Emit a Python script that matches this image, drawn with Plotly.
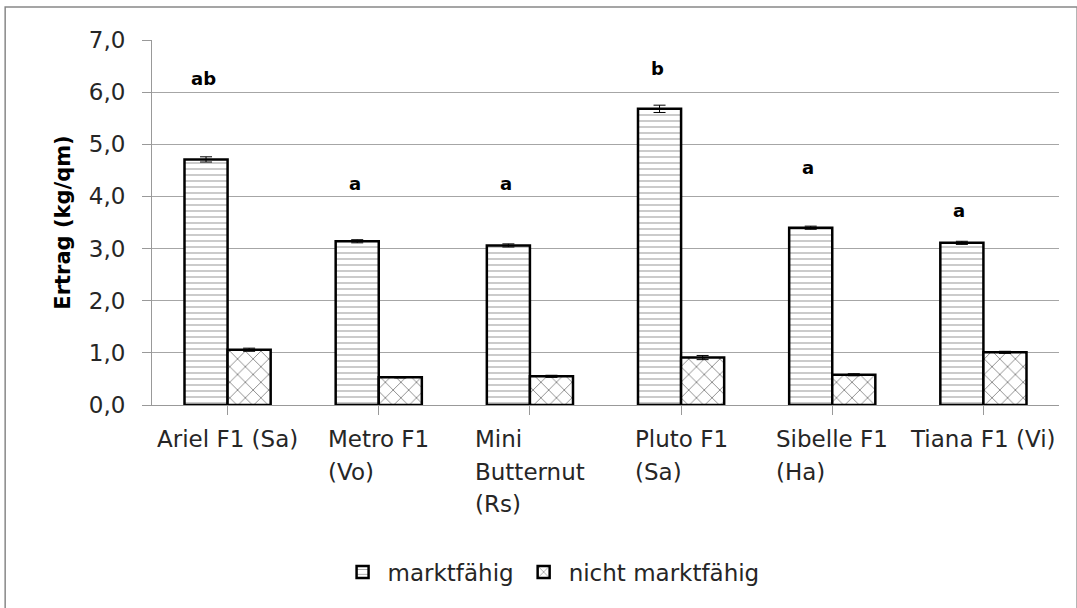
import plotly.graph_objects as go

categories = ["Ariel F1 (Sa)", "Metro F1\n(Vo)", "Mini\nButternut\n(Rs)", "Pluto F1\n(Sa)", "Sibelle F1\n(Ha)", "Tiana F1 (Vi)"]
marktfaehig = [4.71, 3.14, 3.06, 5.68, 3.40, 3.11]
marktfaehig_err = [0.05, 0.03, 0.03, 0.07, 0.03, 0.03]
nicht_marktfaehig = [1.06, 0.53, 0.55, 0.91, 0.58, 1.01]
nicht_err = [0.03, 0.01, 0.02, 0.04, 0.02, 0.02]
letters = ["ab", "a", "a", "b", "a", "a"]
letter_y = [6.27, 4.24, 4.24, 6.46, 4.55, 3.73]
yticks = [0, 1, 2, 3, 4, 5, 6, 7]
ytick_labels = ["0,0", "1,0", "2,0", "3,0", "4,0", "5,0", "6,0", "7,0"]

FONT = "DejaVu Sans"
TXT = "#262626"
xkeys = list(range(len(categories)))

fig = go.Figure()
fig.add_trace(go.Bar(
    x=xkeys, y=marktfaehig, name="marktfähig",
    marker=dict(color="white", line=dict(color="black", width=2.5),
                pattern=dict(shape="-", size=6, solidity=0.17, fgcolor="#333", bgcolor="white")),
    error_y=dict(type="data", array=marktfaehig_err, color="black", thickness=1, width=6),
))
fig.add_trace(go.Bar(
    x=xkeys, y=nicht_marktfaehig, name="nicht marktfähig",
    marker=dict(color="white", line=dict(color="black", width=2.5),
                pattern=dict(shape="x", size=11, solidity=0.15, fgcolor="black", bgcolor="white")),
    error_y=dict(type="data", array=nicht_err, color="black", thickness=1, width=6),
))

annotations = []
for i, (lt, ly) in enumerate(zip(letters, letter_y)):
    annotations.append(dict(x=xkeys[i], y=ly, xref="x", yref="y", text="<b>%s</b>" % lt,
                            showarrow=False, xshift=-24,
                            font=dict(family=FONT, size=18, color="black")))
for i, cat in enumerate(categories):
    lines = ["<span style='font-size:23px'>%s</span>" % ln for ln in cat.split("\n")]
    annotations.append(dict(x=xkeys[i], y=0, xref="x", yref="y", text="<br>".join(lines),
                            showarrow=False, yanchor="top", align="left", yshift=-19,
                            font=dict(family=FONT, size=25, color=TXT)))

fig.update_layout(
    width=1077, height=608,
    margin=dict(l=152, r=18, t=40, b=203),
    paper_bgcolor="white", plot_bgcolor="white",
    barmode="group", bargap=0.43, bargroupgap=0,
    showlegend=True,
    legend=dict(orientation="h", x=0.44, xanchor="center", y=-0.4575, yanchor="middle",
                font=dict(family=FONT, size=23, color=TXT), traceorder="normal",
                itemwidth=40),
    font=dict(family=FONT, color=TXT),
    annotations=annotations,
    xaxis=dict(range=[-0.5, 5.5], tickmode="array", tickvals=xkeys, showticklabels=False,
               tickson="boundaries", ticks="outside", ticklen=9, tickcolor="#999",
               showline=True, linecolor="#999", linewidth=1, showgrid=False, zeroline=False),
    yaxis=dict(range=[0, 7], tickmode="array", tickvals=yticks, ticktext=ytick_labels,
               ticks="outside", ticklen=9, tickcolor="#999", ticklabelstandoff=12,
               showline=True, linecolor="#999", linewidth=1,
               showgrid=True, gridcolor="#a6a6a6", gridwidth=1, zeroline=False,
               tickfont=dict(family=FONT, size=23, color=TXT),
               automargin=False,
               title=dict(text="<b>Ertrag (kg/qm)</b>", font=dict(family=FONT, size=21, color="black"),
                          standoff=12)),
    shapes=[dict(type="rect", xref="paper", yref="paper", x0=-0.1619, x1=1.02, y0=-0.56, y1=1.0904,
                 line=dict(color="#888", width=1.5), fillcolor="rgba(0,0,0,0)", layer="below")],
)

fig.write_html("out.html", config={"displayModeBar": False},
               post_script="document.body.style.margin='0';")
